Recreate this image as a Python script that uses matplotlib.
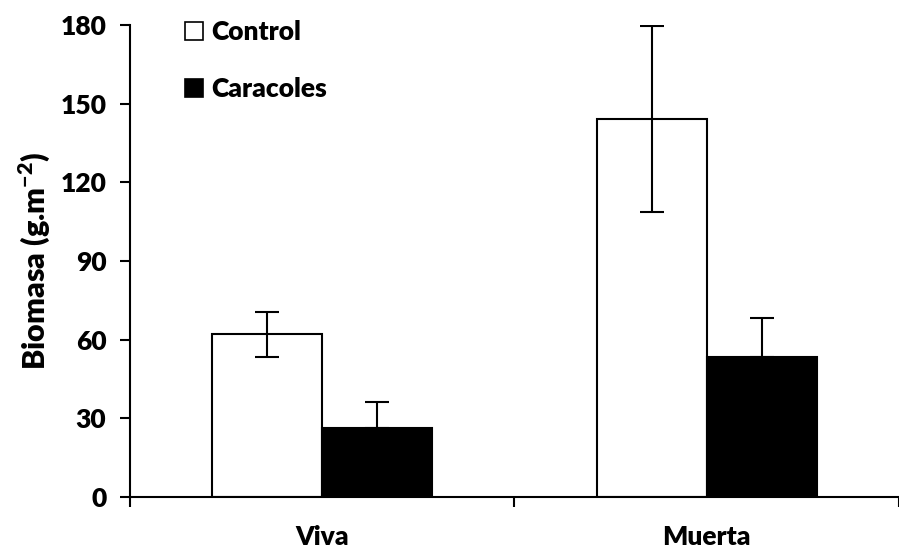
import matplotlib.pyplot as plt
import numpy as np
from matplotlib.patches import Patch

# Biomass by tissue state (g/m2), mean and error
categories = ["Viva", "Muerta"]
control = [62, 144.2]
control_err = [8.5, 35.5]
caracoles = [26.5, 53.2]
caracoles_err = [9.6, 15.0]

plt.rcParams['font.family'] = ['Lato', 'DejaVu Sans']
plt.rcParams['font.weight'] = 'heavy'
plt.rcParams['mathtext.fontset'] = 'custom'
plt.rcParams['mathtext.rm'] = 'Lato:heavy'
plt.rcParams['mathtext.bf'] = 'Lato:heavy'

fig = plt.figure(figsize=(8.99, 5.49), dpi=100)
ax = fig.add_axes([0.1446, 0.0947, 0.8554, 0.8598])

x = np.arange(len(categories))
w = 0.286

ax.bar(x - w / 2, control, w, color='white', edgecolor='black', linewidth=1.5, zorder=2)
ax.bar(x + w / 2, caracoles, w, color='black', edgecolor='black', linewidth=1.5, zorder=2)
ax.errorbar(x - w / 2, control, yerr=control_err, fmt='none', ecolor='black',
            elinewidth=1.5, capsize=8.5, capthick=1.5, zorder=3)
ax.errorbar(x + w / 2, caracoles, yerr=[np.zeros(len(caracoles)), caracoles_err], fmt='none',
            ecolor='black', elinewidth=1.5, capsize=8.5, capthick=1.5, zorder=3)

ax.set_xlim(-0.5, 1.5)
ax.set_ylim(0, 180)
ax.set_yticks(range(0, 181, 30))
ax.set_xticks([-0.5, 0.5, 1.5])
ax.set_xticklabels([])
ax.set_xticks(x, minor=True)
ax.set_xticklabels(categories, minor=True)
ax.tick_params(axis='x', which='minor', length=0, pad=20, labelsize=19)
ax.tick_params(axis='x', which='major', length=7, width=1.5, direction='out')
ax.tick_params(axis='y', length=7, width=1.5, direction='out', labelsize=19, pad=10)

for side in ('top', 'right'):
    ax.spines[side].set_visible(False)
for side in ('left', 'bottom'):
    ax.spines[side].set_linewidth(1.5)

ax.set_ylabel("Biomasa (g.m$^{\\mathrm{-2}}$)", fontsize=22, fontweight='heavy', labelpad=6)

handles = [Patch(facecolor='white', edgecolor='black', linewidth=1.2),
           Patch(facecolor='black', edgecolor='black', linewidth=1.2)]
ax.legend(handles, ["Control", "Caracoles"], loc='upper left', bbox_to_anchor=(0.04, 1.06),
          frameon=False, fontsize=19, handlelength=0.7, handleheight=0.7,
          handletextpad=0.3, labelspacing=1.25)

fig.savefig("out.png", dpi=100)
